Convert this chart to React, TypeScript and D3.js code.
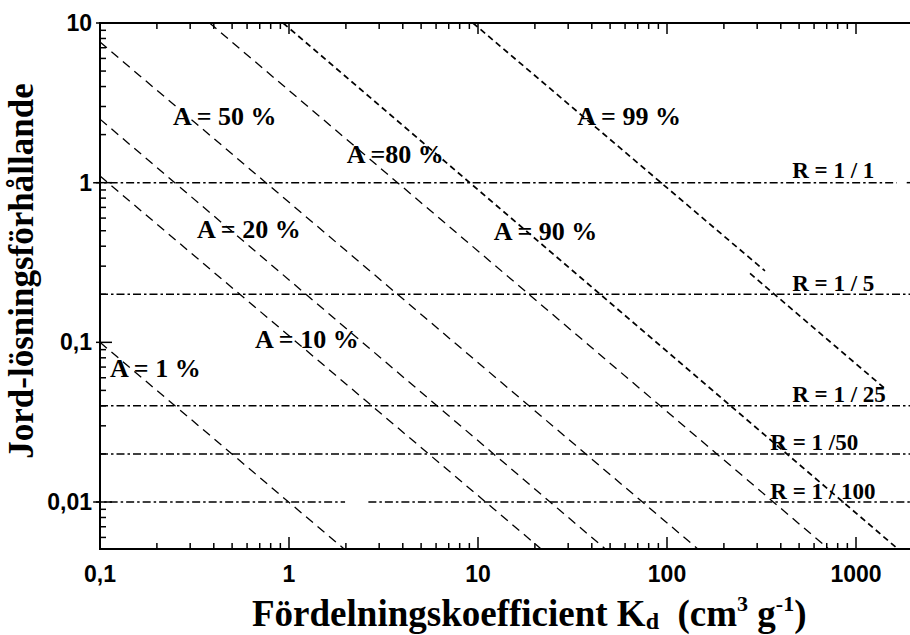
import React from "react";
import * as d3 from "d3";

// ---------- data ----------
const xMajorTicks = [0.1, 1, 10, 100, 1000];
const xTickLabels = ["0,1", "1", "10", "100", "1000"];
const yMajorTicks = [10, 1, 0.1, 0.01];
const yTickLabels = ["10", "1", "0,1", "0,01"];

// sorbed-fraction lines (A), as segments of [Kd, R] points
const aNames = ["A = 1 %", "A = 10 %", "A = 20 %", "A = 50 %", "A =80 %", "A = 90 %", "A = 99 %"];
const aSegments: [number, number][][][] = [
  [[[0.1, 0.1], [1.95, 0.0051]]],
  [[[0.1, 1.1], [21.5, 0.0051]]],
  [[[0.1, 2.5], [47, 0.0051]]],
  [[[0.1, 7.6], [145, 0.0051]]],
  [[[0.38, 10], [714, 0.0051]]],
  [[[0.93, 10], [1660, 0.0051]]],
  [[[9.4, 10], [330, 0.28]], [[275, 0.27], [1460, 0.05]]],
];
const aLabelKd = [0.113, 0.661, 0.326, 0.243, 2.02, 12.1, 33.5];
const aLabelR = [0.0607, 0.0922, 0.45, 2.3, 1.33, 0.438, 2.3];

// soil:solution ratio lines (R)
const rNames = ["R = 1 / 1", "R = 1 / 5", "R = 1 / 25", "R = 1 /50", "R = 1 / 100"];
const rValues = [1, 0.2, 0.04, 0.02, 0.01];
const rSegmentsKd: [number, number][][] = [
  [[0.092, 1640], [1855, 1950]],
  [[0.1, 1950]],
  [[0.1, 1950]],
  [[0.1, 1950]],
  [[0.092, 1.98], [2.63, 1950]],
];
const rLabelKd = [460, 460, 460, 352, 352];
const rLabelR = [1.07, 0.21, 0.0423, 0.0212, 0.01045];

// ---------- layout ----------
const W = 910;
const H = 635;
const xScale = d3.scaleLog().domain([0.1, 1000]).range([100, 856]);
const yScale = d3.scaleLog().domain([0.01, 10]).range([502, 23]);
const plotLeft = 100;
const plotRight = 910;
const plotTop = 23;
const plotBottom = 549;

const serif = "'Liberation Serif', 'Times New Roman', Times, serif";
const sans = "'Liberation Sans', Arial, Helvetica, sans-serif";

export default function App() {
  const xMinor = d3
    .scaleLog()
    .domain([0.1, xScale.invert(plotRight)])
    .ticks()
    .filter((v) => !xMajorTicks.some((m) => Math.abs(m - v) / m < 1e-6));
  const yMinor = d3
    .scaleLog()
    .domain([yScale.invert(plotBottom), 10])
    .ticks()
    .filter((v) => !yMajorTicks.some((m) => Math.abs(m - v) / m < 1e-6))
    .filter((v) => yScale(v) < plotBottom - 1);

  const line = d3
    .line<[number, number]>()
    .x((d) => xScale(d[0]))
    .y((d) => yScale(d[1]));

  return (
    <div>
      <style>{`body{margin:0;background:#fff}`}</style>
      <svg width={W} height={H} style={{ display: "block" }}>
        <rect width={W} height={H} fill="#fff" />
        {/* R lines */}
        {rValues.map((r, i) =>
          rSegmentsKd[i].map((seg, j) => (
            <line
              key={`r${i}-${j}`}
              x1={xScale(seg[0])}
              x2={xScale(seg[1])}
              y1={yScale(r)}
              y2={yScale(r)}
              stroke="#000"
              strokeWidth={1.5}
              strokeDasharray="8,3,2.5,3"
            />
          ))
        )}
        {/* A lines */}
        {aSegments.map((segs, i) =>
          segs.map((seg, j) => (
            <path
              key={`a${i}-${j}`}
              d={line(seg) || ""}
              fill="none"
              stroke="#000"
              strokeWidth={i >= 5 ? 1.7 : 1.3}
              strokeDasharray={i >= 5 ? "6,4" : "9,6"}
            />
          ))
        )}
        {/* axes */}
        <line x1={plotLeft} x2={plotRight} y1={plotTop} y2={plotTop} stroke="#000" strokeWidth={2} />
        <line x1={plotLeft} x2={plotRight} y1={plotBottom} y2={plotBottom} stroke="#000" strokeWidth={2} />
        <line x1={plotLeft} x2={plotLeft} y1={plotTop - 1} y2={plotBottom + 1} stroke="#000" strokeWidth={2} />
        {xMinor.map((v, i) => (
          <g key={`xm${i}`}>
            <line x1={xScale(v)} x2={xScale(v)} y1={plotBottom} y2={plotBottom - 6} stroke="#000" strokeWidth={1.5} />
            <line x1={xScale(v)} x2={xScale(v)} y1={plotTop} y2={plotTop + 6} stroke="#000" strokeWidth={1.5} />
          </g>
        ))}
        {xMajorTicks.map((v, i) => (
          <g key={`xM${i}`}>
            <line x1={xScale(v)} x2={xScale(v)} y1={plotBottom} y2={plotBottom - 12} stroke="#000" strokeWidth={1.5} />
            <line x1={xScale(v)} x2={xScale(v)} y1={plotTop} y2={plotTop + 11} stroke="#000" strokeWidth={1.5} />
            <text
              x={xScale(v)}
              y={582}
              textAnchor="middle"
              fontFamily={sans}
              fontWeight="bold"
              fontSize={23}
            >
              {xTickLabels[i]}
            </text>
          </g>
        ))}
        {yMinor.map((v, i) => (
          <line key={`ym${i}`} x1={plotLeft} x2={plotLeft + 6} y1={yScale(v)} y2={yScale(v)} stroke="#000" strokeWidth={1.5} />
        ))}
        {yMajorTicks.map((v, i) => (
          <g key={`yM${i}`}>
            <line x1={plotLeft - 4} x2={plotLeft + 12} y1={yScale(v)} y2={yScale(v)} stroke="#000" strokeWidth={1.5} />
            <text
              x={92}
              y={yScale(v) + 8}
              textAnchor="end"
              fontFamily={sans}
              fontWeight="bold"
              fontSize={23}
            >
              {yTickLabels[i]}
            </text>
          </g>
        ))}
        {/* A labels */}
        {aNames.map((n, i) => (
          <text
            key={`al${i}`}
            x={xScale(aLabelKd[i])}
            y={yScale(aLabelR[i])}
            fontFamily={serif}
            fontWeight="bold"
            fontSize={26}
            style={{ whiteSpace: "pre" }}
          >
            {n}
          </text>
        ))}
        {/* R labels */}
        {rNames.map((n, i) => (
          <text
            key={`rl${i}`}
            x={xScale(rLabelKd[i])}
            y={yScale(rLabelR[i])}
            fontFamily={serif}
            fontWeight="bold"
            fontSize={23}
            style={{ whiteSpace: "pre" }}
          >
            {n}
          </text>
        ))}
        {/* axis titles */}
        <text
          x={252}
          y={626}
          fontFamily={serif}
          fontWeight="bold"
          fontSize={37}
          style={{ whiteSpace: "pre" }}
        >
          Fördelningskoefficient K
          <tspan fontSize={24} dy={3}>d</tspan>
          <tspan dy={-3}>{"  (cm"}</tspan>
          <tspan fontSize={22} dy={-15}>3</tspan>
          <tspan dy={15}>{" g"}</tspan>
          <tspan fontSize={22} dy={-15}>-1</tspan>
          <tspan dy={15}>)</tspan>
        </text>
        <text
          transform="translate(33,271) rotate(-90)"
          textAnchor="middle"
          fontFamily={serif}
          fontWeight="bold"
          fontSize={35}
        >
          Jord-lösningsförhållande
        </text>
      </svg>
    </div>
  );
}
